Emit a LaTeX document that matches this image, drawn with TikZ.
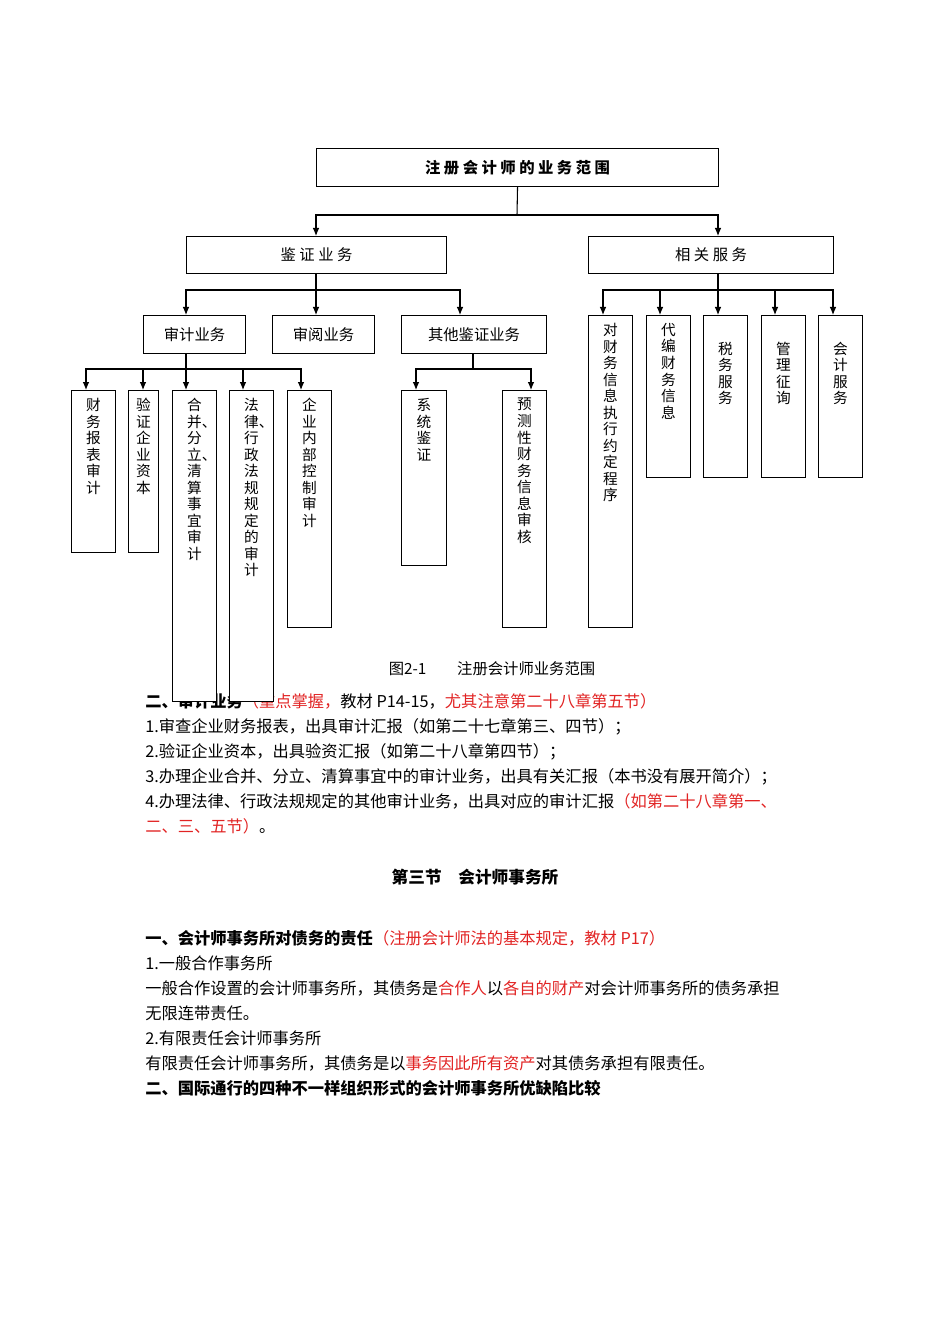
\documentclass[tikz,border=0pt]{standalone}
\usepackage{fontspec}
\setmainfont{Noto Sans CJK SC}
\usetikzlibrary{arrows.meta}
\definecolor{hl}{RGB}{225,35,35}
\tikzset{
  bx/.style={draw,thick,fill=white,inner sep=0pt},
  ar/.style={thick,-{Latex[length=6pt,width=5pt]}},
  ln/.style={thick},
  vt/.style={anchor=north,align=center,font=\fontsize{11pt}{12.4pt}\selectfont,inner sep=0pt},
  hz/.style={font=\fontsize{11.5pt}{14pt}\selectfont},
  tx/.style={anchor=base west,inner sep=0pt,font=\fontsize{12.2pt}{14pt}\selectfont}
}
\newcommand{\bxat}[5]{\node[bx,minimum width=#3*0.75pt-0.75pt,minimum height=#4*0.75pt-0.75pt,anchor=north west] (#5) at (#1,#2) {};}
\begin{document}
\begin{tikzpicture}[x=0.75pt,y=-0.75pt]
\useasboundingbox (0,0) rectangle (950,1344);
% text body first
\node[tx] (t0) at (145,707) {\textbf{二、审计业务}\textcolor{hl}{（重点掌握，}教材 P14-15，\textcolor{hl}{尤其注意第二十八章第五节）}};
\node[tx] (t1) at (145,732) {1.审查企业财务报表，出具审计汇报（如第二十七章第三、四节）；};
\node[tx] (t2) at (145,757) {2.验证企业资本，出具验资汇报（如第二十八章第四节）；};
\node[tx] (t3) at (145,782) {3.办理企业合并、分立、清算事宜中的审计业务，出具有关汇报（本书没有展开简介）；};
\node[tx] (t4) at (145,807) {4.办理法律、行政法规规定的其他审计业务，出具对应的审计汇报\textcolor{hl}{（如第二十八章第一、}};
\node[tx] (t5) at (145,832) {\textcolor{hl}{二、三、五节）}。};
\node[anchor=base,inner sep=0pt,font=\fontsize{12.5pt}{14pt}\selectfont\bfseries] (h3) at (475,883) {第三节\quad 会计师事务所};
\node[tx] (s0) at (145,944) {\textbf{一、会计师事务所对债务的责任}\textcolor{hl}{（注册会计师法的基本规定，教材 P17）}};
\node[tx] (s1) at (145,969) {1.一般合作事务所};
\node[tx] (s2) at (145,994) {一般合作设置的会计师事务所，其债务是\textcolor{hl}{合作人}以\textcolor{hl}{各自的财产}对会计师事务所的债务承担};
\node[tx] (s3) at (145,1019) {无限连带责任。};
\node[tx] (s4) at (145,1044) {2.有限责任会计师事务所};
\node[tx] (s5) at (145,1069) {有限责任会计师事务所，其债务是以\textcolor{hl}{事务因此所有资产}对其债务承担有限责任。};
\node[tx] (s6) at (145,1094) {\textbf{二、国际通行的四种不一样组织形式的会计师事务所优缺陷比较}};
\node[anchor=center,inner sep=0pt,font=\fontsize{11.5pt}{14pt}\selectfont] (cap) at (492,669) {图2-1\qquad 注册会计师业务范围};

% top level
\bxat{316}{148}{403}{39}{top}
\node[hz,font=\fontsize{11.5pt}{14pt}\selectfont\bfseries] at (top) {注 册 会 计 师 的 业 务 范 围};
\bxat{186}{236}{261}{38}{jz}
\node[hz] at (jz) {鉴 证 业 务};
\bxat{588}{236}{246}{38}{xg}
\node[hz] at (xg) {相 关 服 务};
\coordinate (c0) at (517,215);
\coordinate (p1) at (316,236);
\coordinate (p2) at (718,236);
\draw[ln] (top.south) -- (c0);
\draw[ar] (c0) -| (p1);
\draw[ar] (c0) -| (p2);

% second level
\bxat{143}{315}{103}{39}{sj}
\node[hz] at (sj) {审计业务};
\bxat{272}{315}{103}{39}{sy}
\node[hz] at (sy) {审阅业务};
\bxat{401}{315}{146}{39}{qt}
\node[hz] at (qt) {其他鉴证业务};
\coordinate (c1) at (316,290);
\coordinate (q1) at (186,315);
\coordinate (q2) at (316,315);
\coordinate (q3) at (460,315);
\draw[ln] (c1 |- jz.south) -- (c1);
\draw[ar] (c1) -- (q2);
\draw[ar] (c1) -| (q1);
\draw[ar] (c1) -| (q3);

% audit leaves
\bxat{71}{390}{45}{163}{a1}
\bxat{128}{390}{31}{163}{a2}
\bxat{172}{390}{45}{312}{a3}
\bxat{229}{390}{45}{312}{a4}
\bxat{287}{390}{45}{238}{a5}
\node[vt] at ([yshift=-6pt]a1.north) {财\\务\\报\\表\\审\\计};
\node[vt] at ([yshift=-6pt]a2.north) {验\\证\\企\\业\\资\\本};
\node[vt] at ([yshift=-6pt]a3.north) {合\\并\rlap{、}\\分\\立\rlap{、}\\清\\算\\事\\宜\\审\\计};
\node[vt] at ([yshift=-6pt]a4.north) {法\\律\rlap{、}\\行\\政\\法\\规\\规\\定\\的\\审\\计};
\node[vt] at ([yshift=-6pt]a5.north) {企\\业\\内\\部\\控\\制\\审\\计};
\coordinate (c2) at (186,369);
\draw[ln] (c2 |- sj.south) -- (c2);
\foreach \x in {86,143,186,243,301} \draw[ar] (c2) -| (\x,390);

% other assurance leaves
\bxat{401}{390}{46}{176}{b1}
\bxat{502}{390}{45}{238}{b2}
\node[vt] at ([yshift=-6pt]b1.north) {系\\统\\鉴\\证};
\node[vt] at ([yshift=-6pt]b2.north) {预\\测\\性\\财\\务\\信\\息\\审\\核};
\coordinate (c3) at (473,369);
\draw[ln] (c3 |- qt.south) -- (c3);
\foreach \x in {416,531} \draw[ar] (c3) -| (\x,390);

% related services
\bxat{588}{315}{45}{313}{r1}
\bxat{646}{315}{45}{163}{r2}
\bxat{703}{315}{45}{163}{r3}
\bxat{761}{315}{45}{163}{r4}
\bxat{818}{315}{45}{163}{r5}
\node[vt] at ([yshift=-6pt]r1.north) {对\\财\\务\\信\\息\\执\\行\\约\\定\\程\\序};
\node[vt] at ([yshift=-6pt]r2.north) {代\\编\\财\\务\\信\\息};
\node[vt] at ([yshift=-20pt]r3.north) {税\\务\\服\\务};
\node[vt] at ([yshift=-20pt]r4.north) {管\\理\\征\\询};
\node[vt] at ([yshift=-20pt]r5.north) {会\\计\\服\\务};
\coordinate (c4) at (718,290);
\draw[ln] (c4 |- xg.south) -- (c4);
\foreach \x in {603,660,718,775,833} \draw[ar] (c4) -| (\x,315);
\end{tikzpicture}
\end{document}
